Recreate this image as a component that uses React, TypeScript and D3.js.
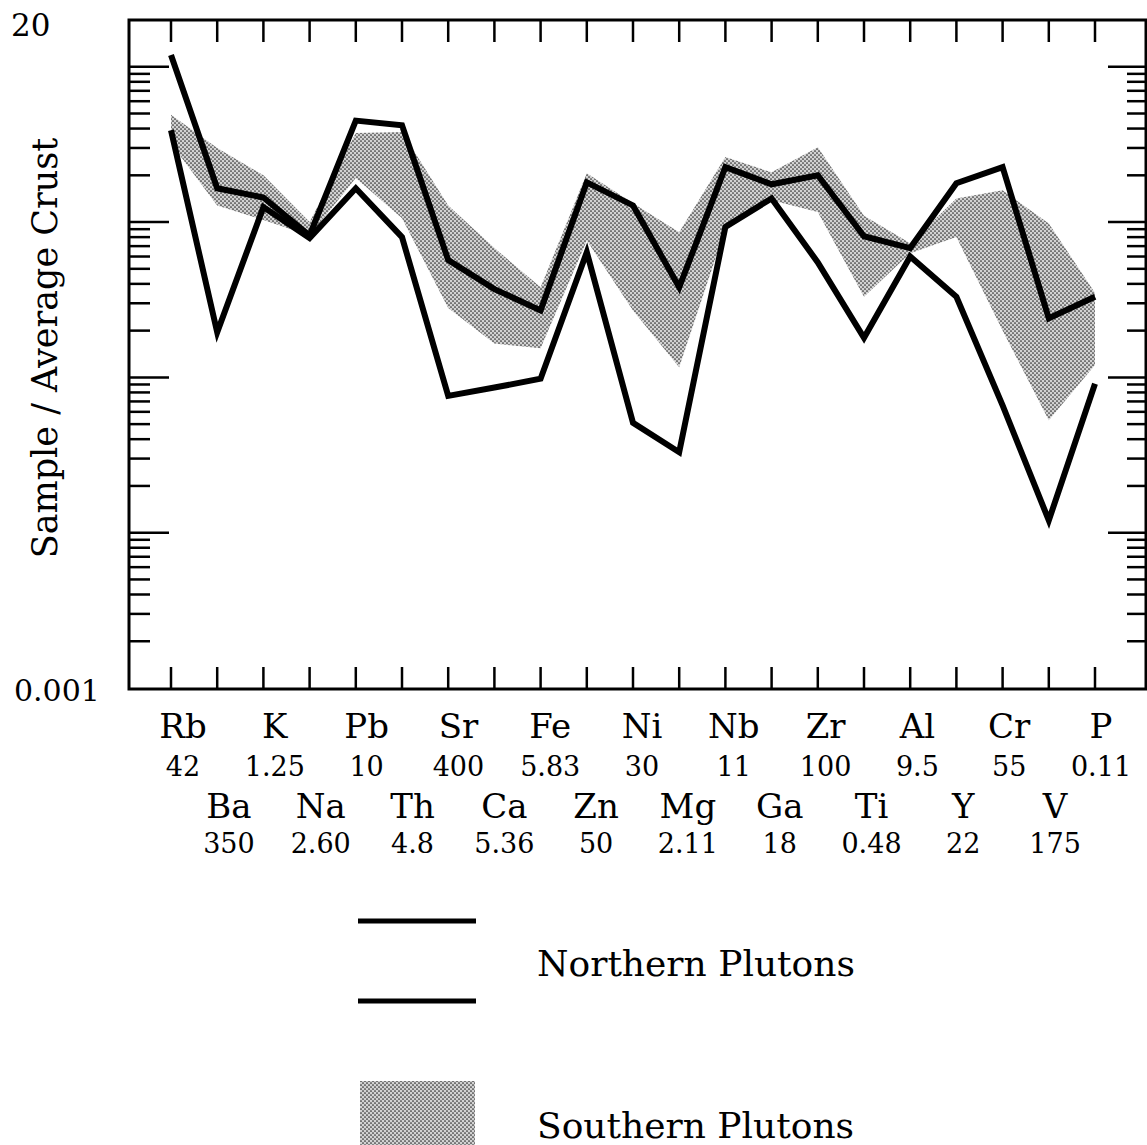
import React from 'react';
import * as d3 from 'd3';

// element order along the x axis, with average crust values printed below
const elements = ['Rb', 'Ba', 'K', 'Na', 'Pb', 'Th', 'Sr', 'Ca', 'Fe', 'Zn', 'Ni',
  'Mg', 'Nb', 'Ga', 'Zr', 'Ti', 'Al', 'Y', 'Cr', 'V', 'P'];
const crustValues = ['42', '350', '1.25', '2.60', '10', '4.8', '400', '5.36', '5.83', '50', '30',
  '2.11', '11', '18', '100', '0.48', '9.5', '22', '55', '175', '0.11'];

// Northern plutons: upper and lower bounding lines (sample / average crust)
const northUpper = [11.9, 1.65, 1.44, 0.82, 4.5, 4.2, 0.57, 0.37, 0.27, 1.8, 1.28,
  0.38, 2.26, 1.75, 2.0, 0.81, 0.68, 1.78, 2.26, 0.24, 0.33];
const northLower = [3.9, 0.195, 1.25, 0.79, 1.65, 0.8, 0.076, 0.086, 0.098, 0.64, 0.051,
  0.033, 0.93, 1.42, 0.55, 0.18, 0.6, 0.33, 0.066, 0.012, 0.091];

// Southern plutons: shaded range
const southUpper = [4.9, 3.0, 2.0, 1.0, 3.74, 3.8, 1.28, 0.68, 0.38, 2.06, 1.32,
  0.86, 2.62, 2.09, 3.03, 1.1, 0.73, 1.42, 1.6, 0.98, 0.35];
const southLower = [3.2, 1.28, 1.03, 0.82, 1.92, 1.06, 0.28, 0.165, 0.154, 0.76, 0.27,
  0.116, 0.91, 1.38, 1.16, 0.33, 0.63, 0.8, 0.2, 0.053, 0.12];

const yDomain: [number, number] = [0.001, 20];

const W = 1147;
const H = 1145;
const left = 129, right = 1146, top = 20, bottom = 688;
const font = '"DejaVu Serif", serif';

function App() {
  const x = d3.scalePoint<string>().domain(elements).range([171, 1095]);
  const xLabel = d3.scalePoint<string>().domain(elements).range([183, 1101]);
  const y = d3.scaleLog().domain(yDomain).range([bottom, top]);

  const line = d3.line<number>()
    .x((_, i) => x(elements[i]) as number)
    .y(d => y(d));

  const area = d3.area<number>()
    .x((_, i) => x(elements[i]) as number)
    .y0((_, i) => y(southLower[i]))
    .y1(d => y(d));

  // log ticks between the end labels (no ticks above 10)
  const yTicks = y.ticks().filter(t => t > yDomain[0] * 1.001 && t <= 10.0001);
  const isMajor = (t: number) => Math.abs(Math.log10(t) - Math.round(Math.log10(t))) < 1e-6;

  return (
    <svg width={W} height={H} style={{ position: 'absolute', left: 0, top: 0, background: '#fff' }}
      fontFamily={font}>
      <defs>
        <pattern id="halftone" width="4" height="4" patternUnits="userSpaceOnUse">
          <rect width="4" height="4" fill="#d2d2d2" />
          <circle cx="1" cy="1" r="0.85" fill="#2a2a2a" />
          <circle cx="3" cy="3" r="0.85" fill="#2a2a2a" />
        </pattern>
      </defs>

      {/* southern plutons range */}
      <path d={area(southUpper) || ''} fill="url(#halftone)" stroke="none" />

      {/* northern plutons bounds */}
      <path d={line(northUpper) || ''} fill="none" stroke="#000" strokeWidth={6} strokeLinejoin="miter" />
      <path d={line(northLower) || ''} fill="none" stroke="#000" strokeWidth={6} strokeLinejoin="miter" />

      {/* frame */}
      <rect x={left} y={top} width={right - left} height={bottom - top + 1} fill="none" stroke="#000" strokeWidth={3} />

      {/* x ticks top and bottom */}
      {elements.map(el => (
        <g key={el} stroke="#000" strokeWidth={2.5}>
          <line x1={x(el)} x2={x(el)} y1={top} y2={top + 22} />
          <line x1={x(el)} x2={x(el)} y1={bottom + 1} y2={bottom - 21} />
        </g>
      ))}

      {/* y ticks left and right */}
      {yTicks.map(t => {
        const major = isMajor(t);
        return (
          <g key={t} stroke="#000" strokeWidth={2.5}>
            <line x1={left} x2={left + (major ? 40 : 21)} y1={y(t)} y2={y(t)} />
            <line x1={right} x2={right - (major ? 38 : 19)} y1={y(t)} y2={y(t)} />
          </g>
        );
      })}

      {/* y end labels */}
      <text x={11} y={36} fontSize={31}>20</text>
      <text x={14} y={701} fontSize={30}>0.001</text>

      <text transform="translate(57,348) rotate(-90)" textAnchor="middle" fontSize={35}>
        Sample / Average Crust
      </text>

      {/* element labels in two staggered rows */}
      {elements.map((el, i) => {
        const row = i % 2;
        return (
          <g key={'lab' + el} textAnchor="middle">
            <text x={xLabel(el)} y={row === 0 ? 738 : 818} fontSize={34}>{el}</text>
            <text x={xLabel(el)} y={row === 0 ? 776 : 853} fontSize={27}>{crustValues[i]}</text>
          </g>
        );
      })}

      {/* legend */}
      <line x1={358} x2={476} y1={921} y2={921} stroke="#000" strokeWidth={5} />
      <line x1={358} x2={476} y1={1001} y2={1001} stroke="#000" strokeWidth={5} />
      <text x={537} y={976} fontSize={36}>Northern Plutons</text>
      <rect x={360} y={1081} width={115} height={70} fill="url(#halftone)" />
      <text x={537} y={1138} fontSize={36}>Southern Plutons</text>
    </svg>
  );
}

export default App;
